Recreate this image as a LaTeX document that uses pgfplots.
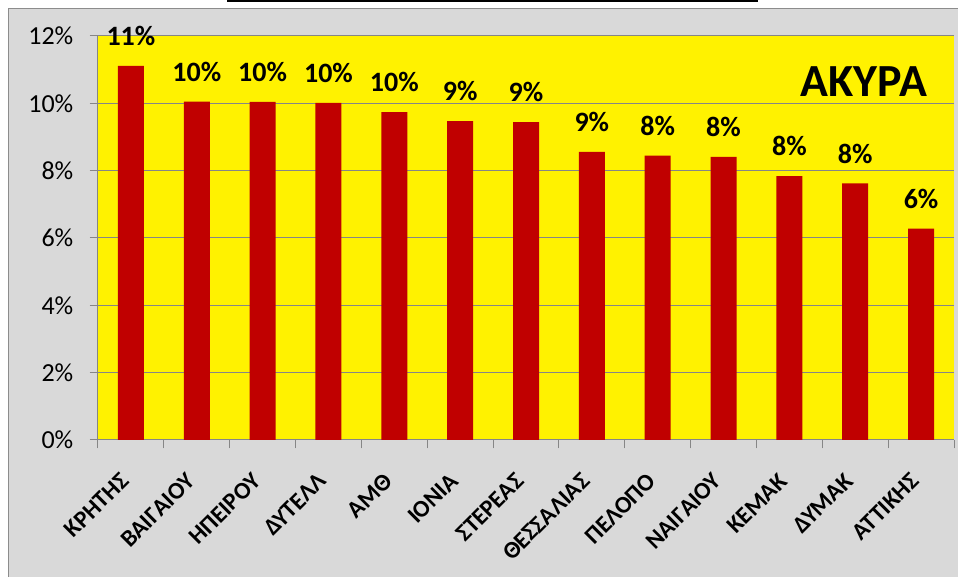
\documentclass[border=0pt]{standalone}
\usepackage{fontspec}
\setmainfont{Carlito}
\usepackage{pgfplots}
\pgfplotsset{compat=1.18}
\definecolor{barred}{HTML}{C00000}
\definecolor{bggray}{HTML}{D9D9D9}
\definecolor{axgray}{HTML}{868686}
\definecolor{boxgray}{HTML}{8C8C8C}
\begin{document}
\begin{tikzpicture}
\fill[bggray] (-89pt,-140pt) rectangle (862pt,431pt);
\draw[boxgray, line width=1pt] (-89pt,-140pt) -- (-89pt,431pt) -- (862pt,431pt);
\draw[black, line width=1.5pt] (129pt,439pt) -- (660pt,439pt);
\begin{axis}[
  at={(0pt,0pt)}, anchor=south west,
  scale only axis, width=856pt, height=404pt,
  xmin=-0.5, xmax=12.5, ymin=0, ymax=12,
  clip=false,
  axis background/.style={fill=yellow},
  axis lines*=left,
  axis line style={axgray, line width=1pt},
  ybar, bar width=26pt, bar shift=0pt,
  ymajorgrids, grid style={axgray, line width=1pt},
  ytick={0,2,...,12},
  yticklabel={\pgfmathprintnumber{\tick}\%},
  /pgf/number format/assume math mode=true,
  tick align=outside,
  major tick length=8.5pt,
  tick style={axgray, line width=1pt},
  xtick={-0.5,0.5,...,12.5},
  xticklabels={ΚΡΗΤΗΣ, ΒΑΙΓΑΙΟΥ, ΗΠΕΙΡΟΥ, ΔΥΤΕΛΛ, ΑΜΘ, ΙΟΝΙΑ, ΣΤΕΡΕΑΣ, ΘΕΣΣΑΛΙΑΣ, ΠΕΛΟΠΟ, ΝΑΙΓΑΙΟΥ, ΚΕΜΑΚ, ΔΥΜΑΚ, ΑΤΤΙΚΗΣ, {}},
  yticklabel style={font=\fontsize{26}{30}\selectfont, anchor=east, inner sep=0pt, xshift=-16pt},
  xticklabel style={font=\bfseries\fontsize{24}{28}\selectfont, anchor=north east, inner sep=0pt, xshift=21pt, yshift=-23pt, rotate=45},
  nodes near coords={\pgfmathprintnumber[fixed,precision=0]{\pgfplotspointmeta}\%},
  every node near coord/.append style={font=\bfseries\fontsize{28}{30}\selectfont, anchor=south, inner sep=0pt, yshift=20pt, black},
]
\addplot[fill=barred, draw=none] coordinates {
(0,11.11) (1,10.05) (2,10.04) (3,10.01) (4,9.74) (5,9.47) (6,9.44)
(7,8.56) (8,8.45) (9,8.41) (10,7.84) (11,7.62) (12,6.28)};
\node[anchor=base east, font=\bfseries\fontsize{46}{50}\selectfont, inner sep=0pt] at (rel axis cs:0.9685,0.849) {ΑΚΥΡΑ};
\end{axis}
\pgfresetboundingbox
\useasboundingbox (-98pt,-137pt) rectangle (860pt,440pt);
\end{tikzpicture}
\end{document}
